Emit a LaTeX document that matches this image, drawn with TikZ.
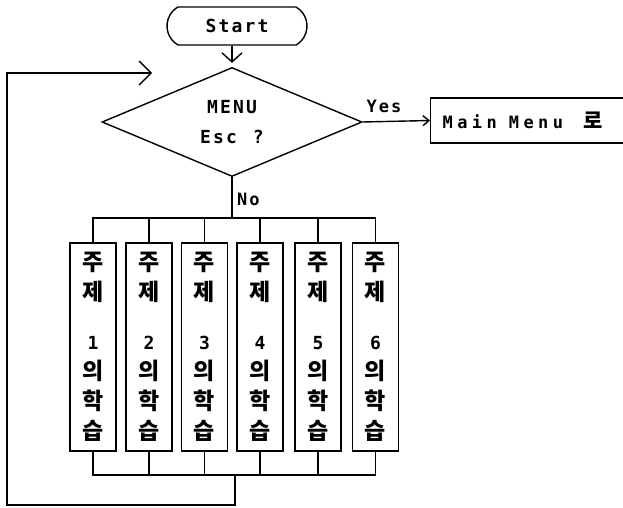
\documentclass[tikz,border=0pt]{standalone}
\usepackage{fontspec}
\newfontfamily\spmono[LetterSpace=12]{DejaVu Sans Mono}
\newfontfamily\wmono[LetterSpace=26]{DejaVu Sans Mono}
\newfontfamily\kr{Noto Sans CJK KR}
\usetikzlibrary{shapes.geometric,shapes.misc,arrows.meta}
\begin{document}
\begin{tikzpicture}[x=1pt,y=-1pt,
  ln/.style={line width=1.4pt},
  bigbarb/.style={-{Straight Barb[length=12pt,width=24pt,line width=1.4pt]}},
  midbarb/.style={-{Straight Barb[length=9pt,width=20pt,line width=1.4pt]}},
  smallbarb/.style={-{Straight Barb[length=6pt,width=10pt,line width=1.4pt]}},
  lbl/.style={font=\spmono\bfseries\fontsize{17}{18}\selectfont,inner sep=0pt},
  tbox/.style={draw,ln,minimum width=46pt,minimum height=208pt,inner sep=0pt,align=center,
    font=\kr\bfseries\fontsize{23}{30}\selectfont},
  term/.style={draw,ln,rounded rectangle,rounded rectangle arc length=120,minimum width=140pt,minimum height=38pt,inner sep=0pt,
    font=\spmono\bfseries\fontsize{18}{18}\selectfont},
  dec/.style={draw,ln,diamond,aspect=2.4,minimum width=260pt,minimum height=109pt,inner sep=0pt,align=center,
    font=\spmono\bfseries\fontsize{18}{30}\selectfont},
  pbox/.style={draw,ln,anchor=west,minimum height=45pt,text width=172pt,inner xsep=12pt,align=left,
    font=\wmono\bfseries\fontsize{17}{18}\selectfont}]
\useasboundingbox (0,0) rectangle (623,508);
% nodes
\node[term] (start) at (237,26) {Start};
\node[dec] (dia) at (232,122) {MENU\\Esc\hspace{16pt}?};
\node[pbox] (mm) at (430,120.5) {Main\hspace{12pt}Menu\hspace{20pt}{\kr\bfseries\fontsize{21}{18}\selectfont 로}};
\node[lbl] (yes) at (384,106) {Yes};
\node[lbl,anchor=west] (no) at (237,199) {No};
\newcommand\numtxt[1]{{\spmono\bfseries\fontsize{18}{30}\selectfont #1}}
\node[tbox] (b1) at (93,347) {주\\제\\[19pt]\numtxt{1}\\의\\학\\습};
\node[tbox] (b2) at (149,347) {주\\제\\[19pt]\numtxt{2}\\의\\학\\습};
\node[tbox] (b3) at (204.5,347) {주\\제\\[19pt]\numtxt{3}\\의\\학\\습};
\node[tbox] (b4) at (260,347) {주\\제\\[19pt]\numtxt{4}\\의\\학\\습};
\node[tbox] (b5) at (318,347) {주\\제\\[19pt]\numtxt{5}\\의\\학\\습};
\node[tbox] (b6) at (375.5,347) {주\\제\\[19pt]\numtxt{6}\\의\\학\\습};
% coordinates
\coordinate (bust) at (232,218);
\coordinate (busb) at (235,475);
\coordinate (ret) at (235,505);
\coordinate (lp) at (152,73);
% connectors
\draw[ln,midbarb,shorten >=4pt] (start.south -| dia.north) -- (dia.north);
\draw[ln,smallbarb] (dia.east) -- (mm.west);
\draw[ln] (dia.south) -- (bust);
\draw[ln] (b1.north) -- (b1.north |- bust) -- (b6.north |- bust) -- (b6.north);
\foreach \b in {b2,b3,b4,b5} \draw[ln] (\b.north) -- (\b.north |- bust);
\draw[ln] (b1.south) -- (b1.south |- busb) -- (b6.south |- busb) -- (b6.south);
\foreach \b in {b2,b3,b4,b5} \draw[ln] (\b.south) -- (\b.south |- busb);
\draw[ln,bigbarb] (busb) -- (ret) -- (7,505) -- (7,73) -- (lp);
\end{tikzpicture}
\end{document}
